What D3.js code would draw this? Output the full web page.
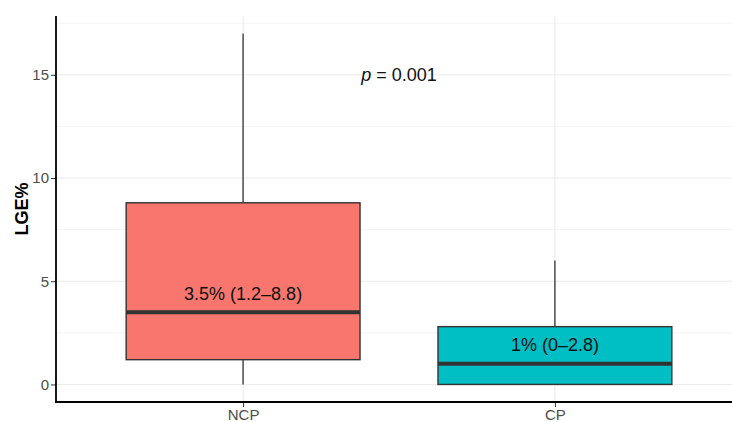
<!DOCTYPE html>
<html>
<head>
<meta charset="utf-8">
<script src="https://cdn.jsdelivr.net/npm/d3@7"></script>
<style>
  body { margin: 0; background: #fff; }
  svg { font-family: "Liberation Sans", Arial, sans-serif; }
</style>
</head>
<body>
<svg id="chart" width="732" height="422"></svg>
<script>
// data
const groups = ["NCP", "CP"];
const mins = [0, 0];
const q1s = [1.2, 0];
const medians = [3.5, 1];
const q3s = [8.8, 2.8];
const maxs = [17, 6];
const fills = ["#F8766D", "#00BFC4"];
const labels = ["3.5% (1.2\u20138.8)", "1% (0\u20132.8)"];
const labelY = [4.4, 1.95];
const yTicks = [0, 5, 10, 15];
const yMinor = [2.5, 7.5, 12.5, 17.5];

const svg = d3.select("#chart"),
  margin = { top: 16, right: -10, bottom: 20, left: 56 },
  width = +svg.attr("width") - margin.left - margin.right,
  height = +svg.attr("height") - margin.top - margin.bottom,
  g = svg.append("g").attr("transform", "translate(" + margin.left + "," + margin.top + ")");

// ggplot style expansion: 5% on y, 0.6 units on discrete x
var y = d3.scaleLinear().domain([-0.85, 17.85]).range([height, 0]);
var x = d3.scalePoint().domain(groups).range([0, width]).padding(0.6);
var step = x.step();
var boxW = step * 0.75;

// grid
g.append("g").selectAll("line")
  .data(yMinor.concat(yTicks))
  .enter().append("line")
  .attr("x1", 0).attr("x2", width)
  .attr("y1", d => y(d)).attr("y2", d => y(d))
  .attr("stroke", "#ebebeb")
  .attr("stroke-width", d => yTicks.indexOf(d) > -1 ? 1 : 0.6);

g.append("g").selectAll("line")
  .data(groups)
  .enter().append("line")
  .attr("x1", d => x(d)).attr("x2", d => x(d))
  .attr("y1", 0).attr("y2", height)
  .attr("stroke", "#ebebeb");

// boxes
var boxes = g.append("g").selectAll("g")
  .data(groups)
  .enter().append("g");

boxes.append("line")
  .attr("x1", d => x(d)).attr("x2", d => x(d))
  .attr("y1", (d, i) => y(maxs[i])).attr("y2", (d, i) => y(q3s[i]))
  .attr("stroke", "#333").attr("stroke-width", 1.3);

boxes.append("line")
  .attr("x1", d => x(d)).attr("x2", d => x(d))
  .attr("y1", (d, i) => y(q1s[i])).attr("y2", (d, i) => y(mins[i]))
  .attr("stroke", "#333").attr("stroke-width", 1.3);

boxes.append("rect")
  .attr("x", d => x(d) - boxW / 2)
  .attr("width", boxW)
  .attr("y", (d, i) => y(q3s[i]))
  .attr("height", (d, i) => y(q1s[i]) - y(q3s[i]))
  .attr("fill", (d, i) => fills[i])
  .attr("stroke", "#333").attr("stroke-width", 1.4);

boxes.append("line")
  .attr("x1", d => x(d) - boxW / 2).attr("x2", d => x(d) + boxW / 2)
  .attr("y1", (d, i) => y(medians[i])).attr("y2", (d, i) => y(medians[i]))
  .attr("stroke", "#333").attr("stroke-width", 4);

boxes.append("text")
  .attr("x", d => x(d))
  .attr("y", (d, i) => y(labelY[i]))
  .attr("dy", "0.35em")
  .attr("text-anchor", "middle")
  .attr("font-size", 18)
  .attr("fill", "#111")
  .text((d, i) => labels[i]);

// p value
var pt = g.append("text")
  .attr("x", (x("NCP") + x("CP")) / 2)
  .attr("y", y(15))
  .attr("dy", "0.35em")
  .attr("text-anchor", "middle")
  .attr("font-size", 18)
  .attr("fill", "#111");
pt.append("tspan").attr("font-style", "italic").text("p");
pt.append("tspan").text(" = 0.001");

// axes
var yAxis = g.append("g")
  .call(d3.axisLeft(y).tickValues(yTicks).tickSize(5).tickPadding(2));
yAxis.select(".domain").remove();
yAxis.selectAll("text").attr("font-size", 15).attr("fill", "#4d4d4d").attr("font-family", "Liberation Sans, Arial, sans-serif");
yAxis.selectAll(".tick line").attr("stroke", "#333");

var xAxis = g.append("g")
  .attr("transform", "translate(0," + height + ")")
  .call(d3.axisBottom(x).tickSize(5).tickPadding(2));
xAxis.select(".domain").remove();
xAxis.selectAll("text").attr("font-size", 15).attr("fill", "#4d4d4d").attr("font-family", "Liberation Sans, Arial, sans-serif");
xAxis.selectAll(".tick line").attr("stroke", "#333");

g.append("line").attr("x1", 0).attr("x2", 0).attr("y1", 0).attr("y2", height + 0.9)
  .attr("stroke", "#000").attr("stroke-width", 1.8);
g.append("line").attr("x1", -0.9).attr("x2", width).attr("y1", height).attr("y2", height)
  .attr("stroke", "#000").attr("stroke-width", 1.8);

svg.append("text")
  .attr("transform", "translate(28," + (margin.top + y(8.5)) + ") rotate(-90)")
  .attr("text-anchor", "middle")
  .attr("font-size", 18)
  .attr("font-weight", "bold")
  .text("LGE%");
</script>
</body>
</html>
